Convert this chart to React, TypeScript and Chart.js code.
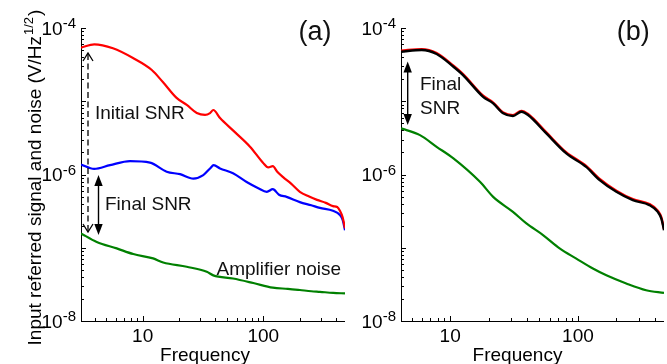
import React, { useEffect, useRef } from 'react';
import { Chart, registerables } from 'chart.js';
Chart.register(...registerables);

const FONT = '"Liberation Sans", Arial, Helvetica, sans-serif';

// ---------- Panel (a) data ----------
const aRedFreq = [3.08, 3.97, 5.67, 8.31, 11.9, 14.7, 19.1, 23.2, 28.1, 32.9, 36.2, 38.5, 43.8, 56.1, 77.6, 99.4, 110, 120, 130, 146, 170, 201, 240, 279, 330, 378, 410, 432, 455, 476];
const aRedVal = [5.38e-5, 5.99e-5, 5.28e-5, 3.89e-5, 2.67e-5, 1.83e-5, 1.11e-5, 8.9e-6, 6.9e-6, 6.5e-6, 6.9e-6, 7.6e-6, 5.9e-6, 4.0e-6, 2.4e-6, 1.45e-6, 1.25e-6, 1.3e-6, 1.1e-6, 9.2e-7, 7.5e-7, 5.8e-7, 5.0e-7, 4.5e-7, 4.1e-7, 3.7e-7, 3.6e-7, 3.2e-7, 2.6e-7, 1.85e-7];

const aBlueFreq = [3.08, 3.96, 5.36, 7.85, 11.5, 15.8, 20.4, 26.3, 31.8, 36.2, 38.8, 43.8, 56.1, 72.8, 90.9, 107, 120, 135, 156, 201, 250, 295, 378, 432, 455, 476];
const aBlueVal = [1.37e-6, 1.19e-6, 1.34e-6, 1.52e-6, 1.45e-6, 1.09e-6, 1.01e-6, 8.8e-7, 9.8e-7, 1.21e-6, 1.34e-6, 1.21e-6, 1.04e-6, 7.9e-7, 6.5e-7, 5.8e-7, 6.3e-7, 5.3e-7, 4.95e-7, 4.2e-7, 3.8e-7, 3.5e-7, 3.2e-7, 2.8e-7, 2.4e-7, 1.74e-7];

const aGreenFreq = [3.08, 4.16, 6.09, 8.36, 12.2, 14.8, 23.2, 34.0, 38.5, 56.1, 82.6, 120, 160, 201, 250, 295, 380, 476];
const aGreenVal = [1.57e-7, 1.2e-7, 9.8e-8, 8.2e-8, 7.15e-8, 6.3e-8, 5.5e-8, 4.7e-8, 4.2e-8, 3.8e-8, 3.3e-8, 2.85e-8, 2.75e-8, 2.65e-8, 2.55e-8, 2.5e-8, 2.42e-8, 2.38e-8];

// ---------- Panel (b) data ----------
const bFreq = [4.12, 5.98, 7.83, 10.6, 12.6, 18.1, 21.7, 26.0, 31.0, 36.1, 40.7, 56.6, 81.1, 116, 148, 200, 269, 363, 422, 450, 472];
const bRedVal = [4.9e-5, 5.15e-5, 4.55e-5, 3.05e-5, 2.35e-5, 1.19e-5, 9.6e-6, 7.0e-6, 6.45e-6, 7.4e-6, 6.7e-6, 3.75e-6, 2.0e-6, 1.31e-6, 8.7e-7, 6.0e-7, 4.6e-7, 3.95e-7, 3.2e-7, 2.6e-7, 1.8e-7];
const bBlackVal = [4.74e-5, 5.0e-5, 4.41e-5, 2.96e-5, 2.28e-5, 1.15e-5, 9.35e-6, 6.84e-6, 6.28e-6, 7.19e-6, 6.48e-6, 3.64e-6, 1.94e-6, 1.27e-6, 8.38e-7, 5.8e-7, 4.46e-7, 3.82e-7, 3.09e-7, 2.5e-7, 1.74e-7];

const bGreenFreq = [4.12, 5.8, 7.83, 10.6, 17.1, 21.7, 31.0, 39.5, 53.3, 71.9, 97.2, 131, 167, 239, 342, 472];
const bGreenVal = [4.26e-6, 3.45e-6, 2.39e-6, 1.66e-6, 7.95e-7, 4.95e-7, 3.09e-7, 2.15e-7, 1.49e-7, 9.8e-8, 7.1e-8, 5.2e-8, 4.2e-8, 3.25e-8, 2.63e-8, 2.42e-8];

// ---------- Axes / ticks ----------
const aXRange = [3.08, 476];
const bXRange = [4.12, 472];
const yRange = [1e-8, 1e-4];
const xMajorTicks = [10, 100];
const xMajorLabels = ['10', '100'];
const aXMinorTicks = [4, 5, 6, 7, 8, 9, 20, 30, 40, 50, 60, 70, 80, 90, 200, 300, 400];
const bXMinorTicks = [5, 6, 7, 8, 9, 20, 30, 40, 50, 60, 70, 80, 90, 200, 300, 400];
const yDecadeTicks = [1e-8, 1e-7, 1e-6, 1e-5, 1e-4];
const yLabeledTicks = [1e-8, 1e-6, 1e-4];
const yLabelExponents = ['-8', '-6', '-4'];
const yMinorMantissas = [2, 3, 4, 5, 6, 7, 8, 9];

const pts = (xs: number[], ys: number[]) => xs.map((x, i) => ({ x, y: ys[i] }));

function arrowFilled(ctx: CanvasRenderingContext2D, x: number, y1: number, y2: number) {
  const hl = 11, hw = 4.2;
  ctx.save();
  ctx.strokeStyle = '#000';
  ctx.fillStyle = '#000';
  ctx.lineWidth = 1.4;
  ctx.beginPath();
  ctx.moveTo(x, y1 + hl - 1);
  ctx.lineTo(x, y2 - hl + 1);
  ctx.stroke();
  ctx.beginPath();
  ctx.moveTo(x, y1);
  ctx.lineTo(x - hw, y1 + hl);
  ctx.lineTo(x + hw, y1 + hl);
  ctx.closePath();
  ctx.fill();
  ctx.beginPath();
  ctx.moveTo(x, y2);
  ctx.lineTo(x - hw, y2 - hl);
  ctx.lineTo(x + hw, y2 - hl);
  ctx.closePath();
  ctx.fill();
  ctx.restore();
}

function arrowDashed(ctx: CanvasRenderingContext2D, x: number, y1: number, y2: number) {
  ctx.save();
  ctx.strokeStyle = '#000';
  ctx.lineWidth = 1.3;
  ctx.setLineDash([6, 3.5]);
  ctx.beginPath();
  ctx.moveTo(x, y1 + 1);
  ctx.lineTo(x, y2 - 1);
  ctx.stroke();
  ctx.setLineDash([]);
  ctx.beginPath();
  ctx.moveTo(x - 5, y1 + 8);
  ctx.lineTo(x, y1);
  ctx.lineTo(x + 5, y1 + 8);
  ctx.moveTo(x - 5, y2 - 8);
  ctx.lineTo(x, y2);
  ctx.lineTo(x + 5, y2 - 8);
  ctx.stroke();
  ctx.restore();
}

type PanelCfg = {
  xMinor: number[];
  freqLabelX: number;
  annotate: (ctx: CanvasRenderingContext2D) => void;
  yTitle?: boolean;
};

function makePlugin(cfg: PanelCfg) {
  return {
    id: 'customAxes',
    beforeDatasetsDraw(chart: any) {
      const ctx: CanvasRenderingContext2D = chart.ctx;
      const xs = chart.scales.x;
      const ys = chart.scales.y;
      const { left, right, top, bottom } = chart.chartArea;
      ctx.save();
      ctx.strokeStyle = '#000';
      ctx.lineWidth = 1;
      ctx.beginPath();
      ctx.moveTo(left + 0.5, top);
      ctx.lineTo(left + 0.5, bottom + 0.5);
      ctx.lineTo(right, bottom + 0.5);
      ctx.stroke();
      ctx.beginPath();
      xMajorTicks.forEach((v) => {
        const px = Math.round(xs.getPixelForValue(v)) + 0.5;
        ctx.moveTo(px, bottom);
        ctx.lineTo(px, bottom - 5);
      });
      cfg.xMinor.forEach((v) => {
        const px = Math.round(xs.getPixelForValue(v)) + 0.5;
        ctx.moveTo(px, bottom);
        ctx.lineTo(px, bottom - 3);
      });
      yDecadeTicks.forEach((v) => {
        const py = Math.round(ys.getPixelForValue(v)) + 0.5;
        ctx.moveTo(left, py);
        ctx.lineTo(left + 5, py);
      });
      yDecadeTicks.slice(0, 4).forEach((d) => {
        yMinorMantissas.forEach((m) => {
          const py = Math.round(ys.getPixelForValue(d * m)) + 0.5;
          ctx.moveTo(left, py);
          ctx.lineTo(left + 3, py);
        });
      });
      ctx.stroke();
      ctx.fillStyle = '#000';
      ctx.textBaseline = 'alphabetic';
      ctx.font = `19px ${FONT}`;
      ctx.textAlign = 'center';
      xMajorTicks.forEach((v, i) => {
        ctx.fillText(xMajorLabels[i], xs.getPixelForValue(v), bottom + 21);
      });
      yLabeledTicks.forEach((v, i) => {
        const py = ys.getPixelForValue(v);
        ctx.font = `15px ${FONT}`;
        const wSup = ctx.measureText(yLabelExponents[i]).width;
        ctx.textAlign = 'right';
        ctx.fillText(yLabelExponents[i], left - 5, py);
        ctx.font = `19px ${FONT}`;
        ctx.fillText('10', left - 5 - wSup, py + 6.5);
      });
      ctx.textAlign = 'center';
      ctx.font = `19px ${FONT}`;
      ctx.fillText('Frequency', cfg.freqLabelX, 360.5);
      if (cfg.yTitle) {
        ctx.save();
        ctx.translate(40.5, 177.5);
        ctx.rotate(-Math.PI / 2);
        ctx.textAlign = 'left';
        const main = 'Input referred signal and noise (V/Hz';
        const sup = '1/2';
        const tail = ')';
        ctx.font = `19px ${FONT}`;
        const wMain = ctx.measureText(main).width;
        const wTail = ctx.measureText(tail).width;
        ctx.font = `13px ${FONT}`;
        const wSup = ctx.measureText(sup).width;
        let x = -(wMain + wSup + wTail + 2) / 2;
        ctx.font = `19px ${FONT}`;
        ctx.fillText(main, x, 0);
        x += wMain + 1;
        ctx.font = `13px ${FONT}`;
        ctx.fillText(sup, x, -7.5);
        x += wSup + 1;
        ctx.font = `19px ${FONT}`;
        ctx.fillText(tail, x, 0);
        ctx.restore();
      }
      ctx.restore();
    },
    afterDatasetsDraw(chart: any) {
      const ctx: CanvasRenderingContext2D = chart.ctx;
      ctx.save();
      cfg.annotate(ctx);
      ctx.restore();
    },
  };
}

function makeOptions(xRange: number[], padRight: number, padLeft: number) {
  return {
    responsive: false,
    animation: false as const,
    layout: { padding: { left: padLeft, right: padRight, top: 28, bottom: 43 } },
    plugins: { legend: { display: false }, tooltip: { enabled: false } },
    elements: { point: { radius: 0 }, line: { cubicInterpolationMode: 'monotone', borderWidth: 2 } },
    scales: {
      x: { type: 'logarithmic' as const, min: xRange[0], max: xRange[1], bounds: 'data' as const, display: false },
      y: { type: 'logarithmic' as const, min: yRange[0], max: yRange[1], bounds: 'data' as const, display: false },
    },
  };
}

export default function App() {
  const refA = useRef<HTMLCanvasElement>(null);
  const refB = useRef<HTMLCanvasElement>(null);

  useEffect(() => {
    document.body.style.margin = '0';
    const chartA = new Chart(refA.current!, {
      type: 'line',
      data: {
        datasets: [
          { data: pts(aRedFreq, aRedVal), borderColor: '#ff0000', borderWidth: 2.2 },
          { data: pts(aBlueFreq, aBlueVal), borderColor: '#0000ff', borderWidth: 2.2 },
          { data: pts(aGreenFreq, aGreenVal), borderColor: '#008000', borderWidth: 2.2 },
        ],
      },
      options: makeOptions(aXRange, 5, 81) as any,
      plugins: [
        makePlugin({
          xMinor: aXMinorTicks,
          freqLabelX: 205,
          yTitle: true,
          annotate: (ctx) => {
            arrowDashed(ctx, 88, 53, 232);
            arrowFilled(ctx, 98.5, 175, 235);
            ctx.fillStyle = '#111';
            ctx.textAlign = 'left';
            ctx.textBaseline = 'alphabetic';
            ctx.font = `19px ${FONT}`;
            ctx.fillText('Initial SNR', 95, 118.5);
            ctx.fillText('Final SNR', 105, 210);
            ctx.fillText('Amplifier noise', 216.5, 274.5);
            ctx.font = `27px ${FONT}`;
            ctx.fillText('(a)', 298.5, 39.5);
          },
        }),
      ],
    });
    const chartB = new Chart(refB.current!, {
      type: 'line',
      data: {
        datasets: [
          { data: pts(bFreq, bBlackVal), borderColor: '#000000', borderWidth: 2.4 },
          { data: pts(bFreq, bRedVal), borderColor: '#ff0000', borderWidth: 2.4 },
          { data: pts(bGreenFreq, bGreenVal), borderColor: '#008000', borderWidth: 2.2 },
        ],
      },
      options: makeOptions(bXRange, 3, 56) as any,
      plugins: [
        makePlugin({
          xMinor: bXMinorTicks,
          freqLabelX: 172.5,
          annotate: (ctx) => {
            arrowFilled(ctx, 62.7, 61.5, 125);
            ctx.fillStyle = '#111';
            ctx.textAlign = 'left';
            ctx.textBaseline = 'alphabetic';
            ctx.font = `19px ${FONT}`;
            ctx.fillText('Final', 75, 90);
            ctx.fillText('SNR', 75, 113.5);
            ctx.font = `27px ${FONT}`;
            ctx.fillText('(b)', 271.7, 39.5);
          },
        }),
      ],
    });
    return () => {
      chartA.destroy();
      chartB.destroy();
    };
  }, []);

  return (
    <div style={{ position: 'fixed', left: 0, top: 0, width: 667, height: 364, background: '#fff' }}>
      <canvas ref={refA} width={350} height={364} style={{ position: 'absolute', left: 0, top: 0, width: 350, height: 364 }} />
      <canvas ref={refB} width={322} height={364} style={{ position: 'absolute', left: 345, top: 0, width: 322, height: 364 }} />
    </div>
  );
}
